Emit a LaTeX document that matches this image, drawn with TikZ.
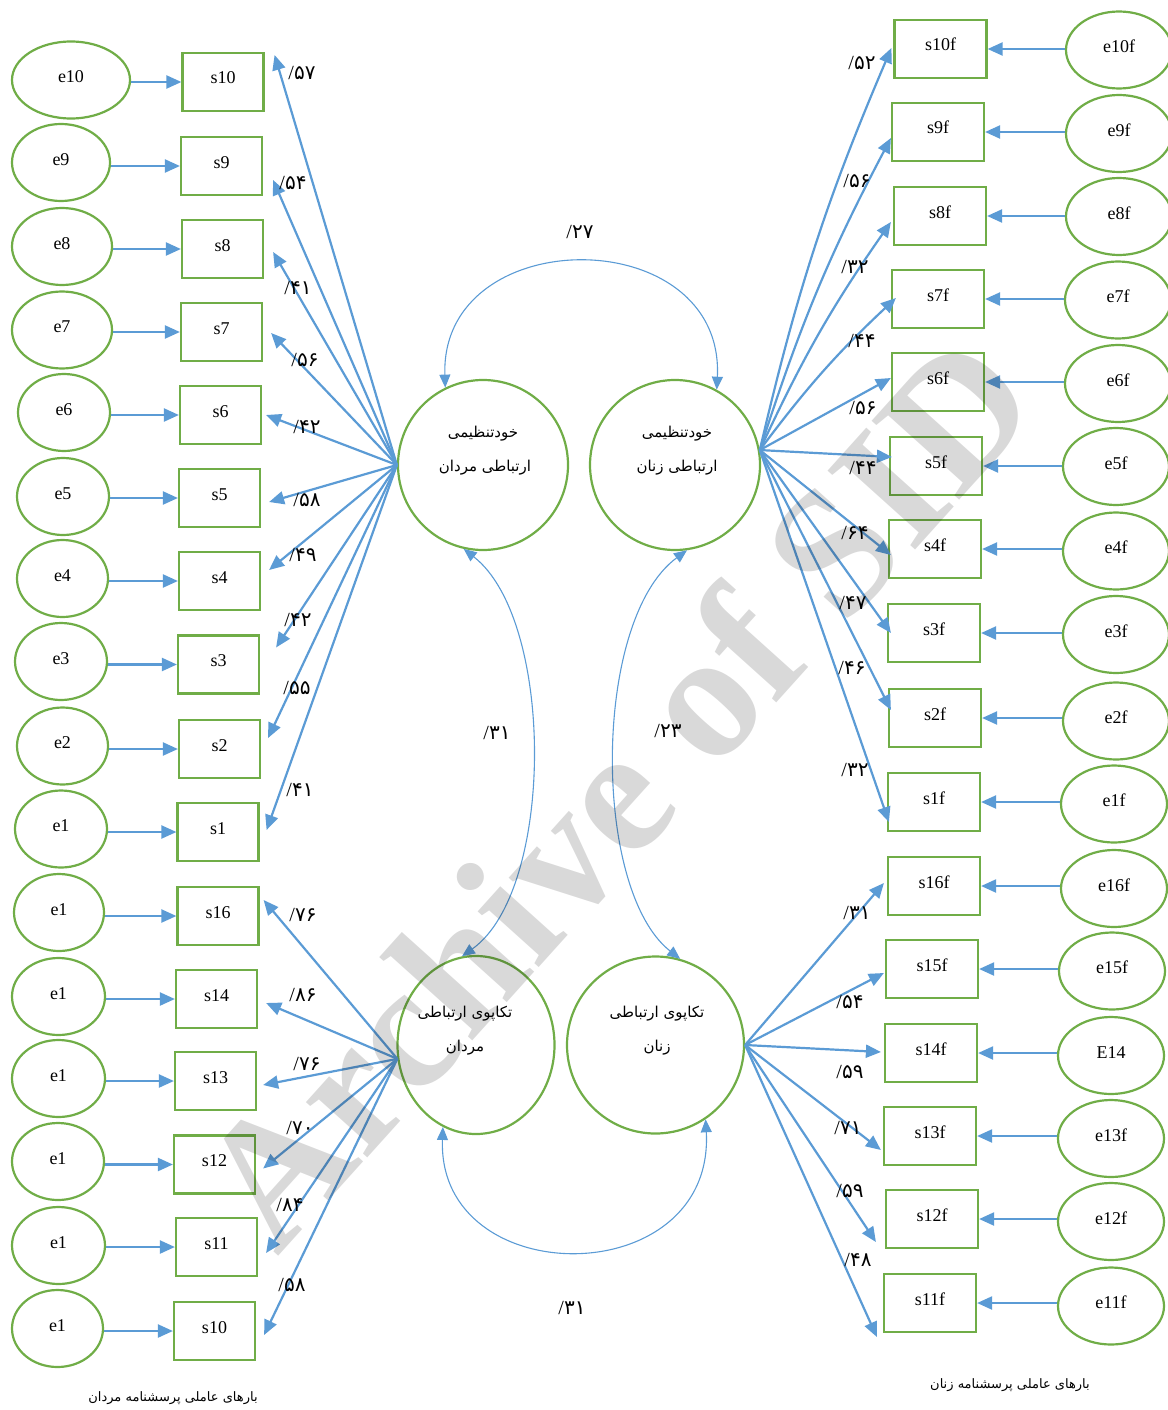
\documentclass[tikz,border=0pt]{standalone}
\usepackage{fontspec}
\setmainfont{Liberation Serif}
\newfontfamily\arabicfont[Script=Arabic]{DejaVu Sans}
\TeXXeTstate=1
\usetikzlibrary{arrows.meta,calc,shapes.geometric}
\definecolor{gr}{HTML}{70AD47}
\definecolor{bl}{HTML}{5B9BD5}
\begin{document}
\begin{tikzpicture}[x=1pt,y=-1pt,
  obs/.style={draw=gr,line width=2.2pt,rectangle,minimum width=81pt,minimum height=58pt,inner sep=0pt,font=\fontsize{18}{20}\selectfont,text height=12pt,text depth=8pt},
  obsr/.style={obs,minimum width=92pt},
  err/.style={draw=gr,line width=2.2pt,ellipse,minimum height=77pt,inner sep=0pt,font=\fontsize{18}{20}\selectfont,text height=12pt,text depth=7pt},
  lat/.style={draw=gr,line width=2.2pt,circle,minimum size=170pt,inner sep=0pt},
  arr/.style={draw=bl,line width=2.2pt,-{Triangle[length=15pt,width=13pt]}},
  cov/.style={draw=bl,line width=1.1pt,{Triangle[length=13pt,width=11pt]}-{Triangle[length=13pt,width=11pt]}},
  num/.style={font=\fontsize{20}{22}\selectfont,inner sep=0pt},
  fa/.style={font=\arabicfont\fontsize{15}{17}\selectfont,inner sep=0pt},
  captext/.style={font=\arabicfont\fontsize{13}{15}\selectfont,inner sep=0pt},
]
\useasboundingbox (0,0) rectangle (1167,1410);

% latent variables
\node[lat] (ML) at (483,465) {};
\node[lat] (FL) at (675,465) {};
\node[draw=gr,line width=2.2pt,ellipse,minimum width=157pt,minimum height=178pt,inner sep=0pt] (ME) at (476,1045) {};
\node[lat,minimum size=177pt] (FE) at (655.5,1045) {};

\node[fa] (tML1) at (483,434) {خودتنظیمی};
\node[fa] (tML2) at (485,468) {\beginR ارتباطی مردان\endR};
\node[fa] (tFL1) at (677,434) {خودتنظیمی};
\node[fa] (tFL2) at (677,468) {\beginR ارتباطی زنان\endR};
\node[fa] (tME1) at (465,1014) {\beginR تکاپوی ارتباطی\endR};
\node[fa] (tME2) at (465,1048) {مردان};
\node[fa] (tFE1) at (657,1014) {\beginR تکاپوی ارتباطی\endR};
\node[fa] (tFE2) at (657,1048) {زنان};

% left indicators
\foreach \n/\x/\y/\t in {L1/223/82/s10, L2/221.5/166/s9, L3/222.5/249/s8, L4/221.5/332/s7,
  L5/220.5/415/s6, L6/219.5/498/s5, L7/219.5/581/s4, L8/218.5/664.5/s3, L9/219.5/749/s2,
  L10/218/832/s1, L11/218/916/s16, L12/216.5/999/s14, L13/215.5/1081/s13, L14/214.5/1164.5/s12,
  L15/216.5/1247/s11, L16/214.5/1331/s10}
  \node[obs] (\n) at (\x,\y) {\t};

\foreach \n/\x/\y/\w/\t in {EL1/71/80/118pt/e10, EL2/61/162.5/98pt/e9, EL3/62/246.5/100pt/e8,
  EL4/62/330/100pt/e7, EL5/64/412.5/92pt/e6, EL6/63/496.5/92pt/e5, EL7/62.5/578.5/91pt/e4,
  EL8/61/661.5/92pt/e3, EL9/62.5/746/91pt/e2, EL10/61/829/92pt/e1, EL11/59/912.5/90pt/e1,
  EL12/58.5/996.5/93pt/e1, EL13/58.5/1078.5/93pt/e1, EL14/58/1161.5/92pt/e1,
  EL15/58.5/1245.5/93pt/e1, EL16/57.5/1328.5/91pt/e1}
  \node[err,minimum width=\w] (\n) at (\x,\y) {\t};

% right indicators
\foreach \n/\x/\y/\t in {R1/940.5/49/s10f, R2/938/132/s9f, R3/940/216/s8f, R4/938/299/s7f,
  R5/938/382/s6f, R6/936/466/s5f, R7/935/549/s4f, R8/934/633/s3f, R9/935/718/s2f,
  R10/934/802/s1f, R11/934/886/s16f, R12/932/969/s15f, R13/931/1053/s14f, R14/930/1136/s13f,
  R15/932/1219/s12f, R16/930/1303/s11f}
  \node[obsr] (\n) at (\x,\y) {\t};

\foreach \n/\x/\y/\t in {ER1/1119/50/e10f, ER2/1119/133.5/e9f, ER3/1119/216.5/e8f,
  ER4/1118/300/e7f, ER5/1118/383.5/e6f, ER6/1116/466.5/e5f, ER7/1116/551/e4f,
  ER8/1116/634.5/e3f, ER9/1116/721/e2f, ER10/1114/804/e1f, ER11/1114/888.5/e16f,
  ER12/1112/971/e15f, ER13/1111/1055.5/E14, ER14/1111/1138.5/e13f, ER15/1111/1221.5/e12f,
  ER16/1111/1306/e11f}
  \node[err,minimum width=106pt] (\n) at (\x,\y) {\t};

% error arrows
\foreach \i in {1,...,16} {
  \draw[arr] (EL\i.east |- L\i.west) -- (L\i.west);
  \draw[arr] (ER\i.west |- R\i.east) -- (R\i.east);
}

% loadings
\foreach \i/\dx/\dy in {1/10/-27,2/10/14,3/9/3,4/8/1,5/4/0,6/8/4,7/8/-11,8/16/-17,9/7/-11,10/7/-2}
  \draw[arr] (ML.west) -- ($(L\i.east)+(\dx,\dy)$);
\foreach \i/\dx/\dy in {11/4/-16,12/8/4,13/6/4,14/7/4,15/8/6,16/8/4}
  \draw[arr] (ME.190) -- ($(L\i.east)+(\dx,\dy)$);
\foreach \i/\dx/\dy in {1/-2/-1,2/0/6,3/-2/6,4/5/-1}
  \draw[arr] (FL.10) to[bend left=5] ($(R\i.west)+(\dx,\dy)$);
\foreach \i/\dx/\dy in {5/0/-4,6/3/-9,7/3/6,8/4/0,9/3/-8,10/2/20}
  \draw[arr] (FL.10) -- ($(R\i.west)+(\dx,\dy)$);
\foreach \i/\dx/\dy in {11/-3/-3,12/-1/4,13/-3/-1,14/-2/14,15/-9/23,16/-6/34}
  \draw[arr] (FE.east) -- ($(R\i.west)+(\dx,\dy)$);

% covariances
\draw[cov] (ML.116) .. controls (440,221) and (725,221) .. (FL.61);
\draw[cov] (ML.257) .. controls (555,620) and (555,890) .. (ME.99);
\draw[cov] (FL.278) .. controls (592,620) and (592,890) .. (FE.74);
\draw[cov] (ME.248) .. controls (437,1293) and (715,1293) .. (FE.304);

% loading labels
\foreach \n/\x/\y/\t in {n1/302/73/۵۷, n2/293/183/۵۴, n3/298/288/۴۱, n4/305/360/۵۶,
  n5/307/427/۴۲, n6/307/500/۵۸, n7/303/555/۴۹, n8/298/620/۴۲, n9/297/688/۵۵,
  n10/300/790/۴۱,
  n11/303/915/۷۶, n12/303/995/۸۶, n13/307/1064/۷۶, n14/300/1128/۷۰, n15/290/1205/۸۴,
  n16/292/1285/۵۸,
  m1/862/63/۵۲, m2/857/181/۵۶, m3/855/267/۳۲, m4/862/341/۴۴, m5/863/408/۵۶,
  m6/863/468/۴۴, m7/855/533/۶۴, m8/853/603/۴۷, m9/852/668/۴۶, m10/855/770/۳۲,
  m11/857/913/۳۱, m12/850/1002/۵۴, m13/850/1072/۵۹, m14/848/1128/۷۱, m15/850/1191/۵۹,
  m16/858/1260/۴۸,
  c1/580/232/۲۷, c2/497/733/۳۱, c3/668/731/۲۳, c4/572/1308/۳۱}
  \node[num] (\n) at (\x,\y) {/{\arabicfont\fontsize{20}{22}\selectfont\t}};

% captions
\node[captext] (capm) at (173,1398) {\beginR بارهای عاملی پرسشنامه مردان\endR};
\node[captext] (capf) at (1010,1385) {\beginR بارهای عاملی پرسشنامه زنان\endR};

% watermark
\node[font=\bfseries\fontsize{180}{180}\selectfont,text=black,text opacity=0.15,rotate=48,inner sep=0pt] (wm) at (615,790) {Archive of SID};
\end{tikzpicture}
\end{document}
